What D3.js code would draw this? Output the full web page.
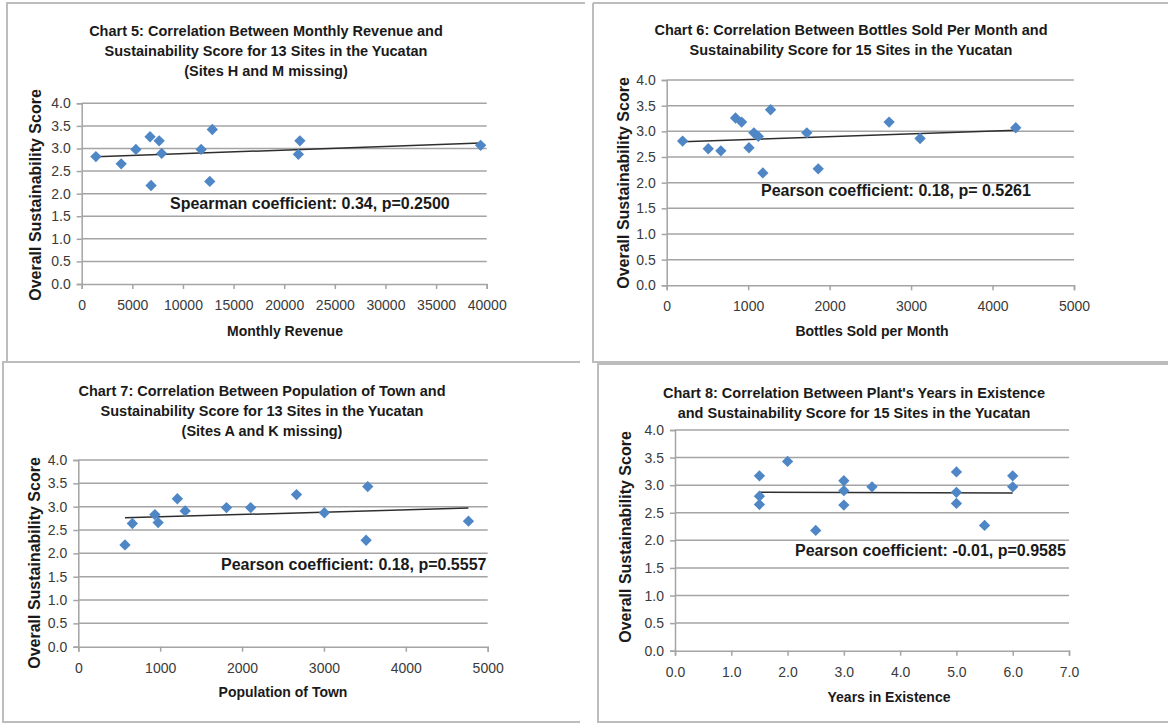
<!DOCTYPE html>
<html>
<head>
<meta charset="utf-8">
<script src="https://cdn.jsdelivr.net/npm/d3@7"></script>
<style>
  body { margin: 0; background: #fff; }
  svg { display: block; font-family: "Liberation Sans", Arial, sans-serif; }
</style>
</head>
<body>
<svg id="chart" width="1168" height="723"></svg>
<script>
// chart 5: monthly revenue vs score (13 sites)
var revenue = [1400, 3900, 5350, 6750, 6850, 7650, 7900, 11800, 12900, 12650, 21550, 21400, 39400];
var revenueScore = [2.82, 2.66, 2.98, 3.26, 2.18, 3.17, 2.89, 2.98, 3.42, 2.27, 3.17, 2.87, 3.07];

// chart 6: bottles sold per month vs score (15 sites)
var bottles = [195, 510, 665, 845, 920, 1010, 1070, 1125, 1180, 1275, 1720, 1860, 2730, 3110, 4285];
var bottlesScore = [2.81, 2.66, 2.62, 3.26, 3.18, 2.68, 2.97, 2.90, 2.19, 3.42, 2.97, 2.27, 3.18, 2.86, 3.07];

// chart 7: population of town vs score (13 sites)
var population = [570, 660, 935, 975, 1210, 1305, 1810, 2105, 2665, 3005, 3515, 3535, 4765];
var populationScore = [2.18, 2.64, 2.83, 2.66, 3.17, 2.91, 2.98, 2.98, 3.26, 2.87, 2.28, 3.43, 2.69];

// chart 8: years in existence vs score (15 sites)
var years = [1.5, 1.5, 1.5, 2.0, 2.5, 3.0, 3.0, 3.0, 3.5, 5.0, 5.0, 5.0, 5.5, 6.0, 6.0];
var yearsScore = [3.17, 2.80, 2.65, 3.43, 2.18, 3.08, 2.90, 2.64, 2.97, 3.24, 2.87, 2.67, 2.27, 3.17, 2.97];

var scoreTicks = [0, 0.5, 1, 1.5, 2, 2.5, 3, 3.5, 4];

var charts = [
  {
    title: ["Chart 5: Correlation Between Monthly Revenue and",
            "Sustainability Score for 13 Sites in the Yucatan",
            "(Sites H and M missing)"],
    titleX: 266, titleY: 31,
    xs: revenue, ys: revenueScore,
    xMax: 40000, xTicks: d3.range(0, 40001, 5000), xFmt: d3.format("d"),
    x0: 81.7, x1: 486.7, yTop: 103.3, yBot: 284,
    xTitle: "Monthly Revenue", xTitleX: 285, xTitleY: 336,
    yTitleX: 40.5, yTitleY: 195,
    note: "Spearman coefficient: 0.34, p=0.2500", noteX: 170, noteY: 209
  },
  {
    title: ["Chart 6: Correlation Between Bottles Sold Per Month and",
            "Sustainability Score for 15 Sites in the Yucatan"],
    titleX: 851, titleY: 30,
    xs: bottles, ys: bottlesScore,
    xMax: 5000, xTicks: d3.range(0, 5001, 1000), xFmt: d3.format("d"),
    x0: 666.7, x1: 1074, yTop: 80, yBot: 285.3,
    xTitle: "Bottles Sold per Month", xTitleX: 872, xTitleY: 336,
    yTitleX: 628.5, yTitleY: 183,
    note: "Pearson coefficient: 0.18, p= 0.5261", noteX: 761, noteY: 196
  },
  {
    title: ["Chart 7: Correlation Between Population of Town and",
            "Sustainability Score for 13 Sites in the Yucatan",
            "(Sites A and K missing)"],
    titleX: 262, titleY: 391,
    xs: population, ys: populationScore,
    xMax: 5000, xTicks: d3.range(0, 5001, 1000), xFmt: d3.format("d"),
    x0: 78.3, x1: 487.7, yTop: 460, yBot: 646.7,
    xTitle: "Population of Town", xTitleX: 283, xTitleY: 697,
    yTitleX: 40, yTitleY: 563,
    note: "Pearson coefficient: 0.18, p=0.5557", noteX: 221, noteY: 570
  },
  {
    title: ["Chart 8: Correlation Between Plant's Years in Existence",
            "and Sustainability Score for 15 Sites in the Yucatan"],
    titleX: 854, titleY: 393,
    xs: years, ys: yearsScore,
    xMax: 7, xTicks: d3.range(0, 7.01, 1), xFmt: d3.format(".1f"),
    x0: 675, x1: 1069, yTop: 430, yBot: 650.7,
    xTitle: "Years in Existence", xTitleX: 889, xTitleY: 702,
    yTitleX: 630.5, yTitleY: 537,
    note: "Pearson coefficient: -0.01, p=0.9585", noteX: 795, noteY: 556
  }
];

var svg = d3.select("#chart");

// panel frames (partly cropped in the original screenshot)
var frameColor = "#bdbdbd";
var frames = [
  [[7, 362], [7, 3], [585, 3]],
  [[593, 3], [593, 362], [1168, 362]],
  [[1168, 3], [593, 3]],
  [[580, 362], [3, 362], [3, 722], [580, 722]],
  [[1168, 364], [598, 364], [598, 722], [1168, 722]]
];
svg.selectAll("path.frame")
  .data(frames)
  .enter().append("path")
  .attr("class", "frame")
  .attr("d", d3.line())
  .attr("fill", "none")
  .attr("stroke", frameColor)
  .attr("stroke-width", 2);

function linearFit(xs, ys) {
  var mx = d3.mean(xs), my = d3.mean(ys);
  var num = 0, den = 0;
  xs.forEach(function(x, i) {
    num += (x - mx) * (ys[i] - my);
    den += (x - mx) * (x - mx);
  });
  var b = num / den;
  return function(x) { return my + b * (x - mx); };
}

charts.forEach(function(c) {
  var g = svg.append("g");
  var x = d3.scaleLinear().domain([0, c.xMax]).range([c.x0, c.x1]);
  var y = d3.scaleLinear().domain([0, 4]).range([c.yBot, c.yTop]);

  // gridlines
  g.append("g")
    .selectAll("line")
    .data(scoreTicks.slice(1))
    .enter().append("line")
    .attr("x1", c.x0).attr("x2", c.x1)
    .attr("y1", function(d) { return y(d); })
    .attr("y2", function(d) { return y(d); })
    .attr("stroke", "#a4a4a4")
    .attr("stroke-width", 1.5);

  // axes
  var xAxis = g.append("g")
    .attr("transform", "translate(0," + c.yBot + ")")
    .call(d3.axisBottom(x).tickValues(c.xTicks).tickFormat(c.xFmt).tickSize(5).tickPadding(11));
  var yAxis = g.append("g")
    .attr("transform", "translate(" + c.x0 + ",0)")
    .call(d3.axisLeft(y).tickValues(scoreTicks).tickFormat(d3.format(".1f")).tickSize(5).tickPadding(6));

  [xAxis, yAxis].forEach(function(a) {
    a.select(".domain").attr("stroke", "#a4a4a4").attr("stroke-width", 1.5);
    a.selectAll(".tick line").attr("stroke", "#a4a4a4").attr("stroke-width", 1.5);
    a.selectAll(".tick text")
      .attr("fill", "#3a3a3a")
      .style("font-size", "14px")
      .style("font-family", "'Liberation Sans', Arial, sans-serif");
  });

  // trendline
  var fit = linearFit(c.xs, c.ys);
  var ext = d3.extent(c.xs);
  g.append("path")
    .datum(ext)
    .attr("d", d3.line().x(function(d) { return x(d); }).y(function(d) { return y(fit(d)); }))
    .attr("stroke", "#2e2e2e")
    .attr("stroke-width", 1.5)
    .attr("fill", "none");

  // points
  g.append("g")
    .selectAll("path")
    .data(c.xs.map(function(v, i) { return [v, c.ys[i]]; }))
    .enter().append("path")
    .attr("d", d3.symbol().type(d3.symbolSquare).size(64))
    .attr("transform", function(d) {
      return "translate(" + x(d[0]) + "," + y(d[1]) + ") rotate(45)";
    })
    .attr("fill", "#4f87c6");

  // title
  g.append("text")
    .attr("x", c.titleX).attr("y", c.titleY)
    .attr("text-anchor", "middle")
    .attr("font-weight", "bold")
    .attr("font-size", 14.5)
    .attr("fill", "#1a1a1a")
    .selectAll("tspan")
    .data(c.title)
    .enter().append("tspan")
    .attr("x", c.titleX)
    .attr("dy", function(d, i) { return i ? 20 : 5; })
    .text(function(d) { return d; });

  // axis titles
  g.append("text")
    .attr("x", c.xTitleX).attr("y", c.xTitleY)
    .attr("text-anchor", "middle")
    .attr("font-weight", "bold")
    .attr("font-size", 14)
    .attr("fill", "#1a1a1a")
    .text(c.xTitle);

  g.append("text")
    .attr("transform", "translate(" + c.yTitleX + "," + c.yTitleY + ") rotate(-90)")
    .attr("text-anchor", "middle")
    .attr("font-weight", "bold")
    .attr("font-size", 16)
    .attr("fill", "#1a1a1a")
    .text("Overall Sustainability Score");

  // coefficient annotation
  g.append("text")
    .attr("x", c.noteX).attr("y", c.noteY)
    .attr("font-weight", "bold")
    .attr("font-size", 16)
    .attr("fill", "#1a1a1a")
    .text(c.note);
});
</script>
</body>
</html>
